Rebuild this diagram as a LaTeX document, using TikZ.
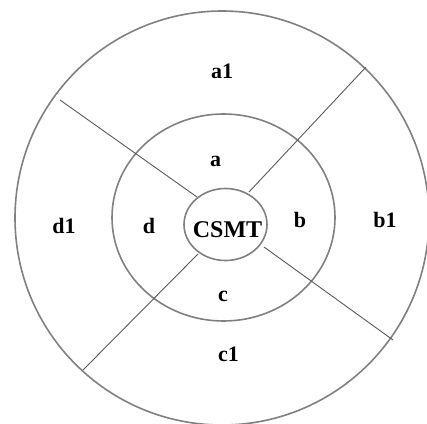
\documentclass[tikz,border=0pt]{standalone}
\usepackage{fontspec}
\setmainfont{Liberation Serif}
\begin{document}
\begin{tikzpicture}[x=1pt,y=-1pt,
  ring/.style={draw=black!50, line width=1.6pt},
  divider/.style={draw=black!65, line width=0.9pt},
  lbl/.style={anchor=base, inner sep=0pt, font=\fontsize{22}{22}\selectfont\bfseries}]
\useasboundingbox (0,0) rectangle (427,423);
% rings
\draw[ring] (222,218) circle [radius=207];
\draw[ring] (223.5,217.5) ellipse [x radius=111.5, y radius=103.5];
\draw[ring] (225.5,224.5) ellipse [x radius=41.5, y radius=36];
% divider end points
\coordinate (ulo) at (60,100);
\coordinate (uli) at (197,197);
\coordinate (uro) at (366,67);
\coordinate (uri) at (249,192);
\coordinate (lro) at (393,340);
\coordinate (lri) at (264,247);
\coordinate (llo) at (83,370);
\coordinate (lli) at (198,254);
\draw[divider] (ulo) -- (uli);
\draw[divider] (uro) -- (uri);
\draw[divider] (lri) -- (lro);
\draw[divider] (lli) -- (llo);
% labels
\node[lbl] (a1) at (222,78) {a1};
\node[lbl] (a) at (215.5,166) {a};
\node[lbl] (d1) at (64,233) {d1};
\node[lbl] (d) at (149,233) {d};
\node[lbl] (b) at (300,227) {b};
\node[lbl] (b1) at (385,227) {b1};
\node[lbl] (c) at (223,301) {c};
\node[lbl] (c1) at (228.5,361) {c1};
\node[lbl, font=\fontsize{24}{24}\selectfont\bfseries] (csmt) at (227.5,237) {CSMT};
\end{tikzpicture}
\end{document}
